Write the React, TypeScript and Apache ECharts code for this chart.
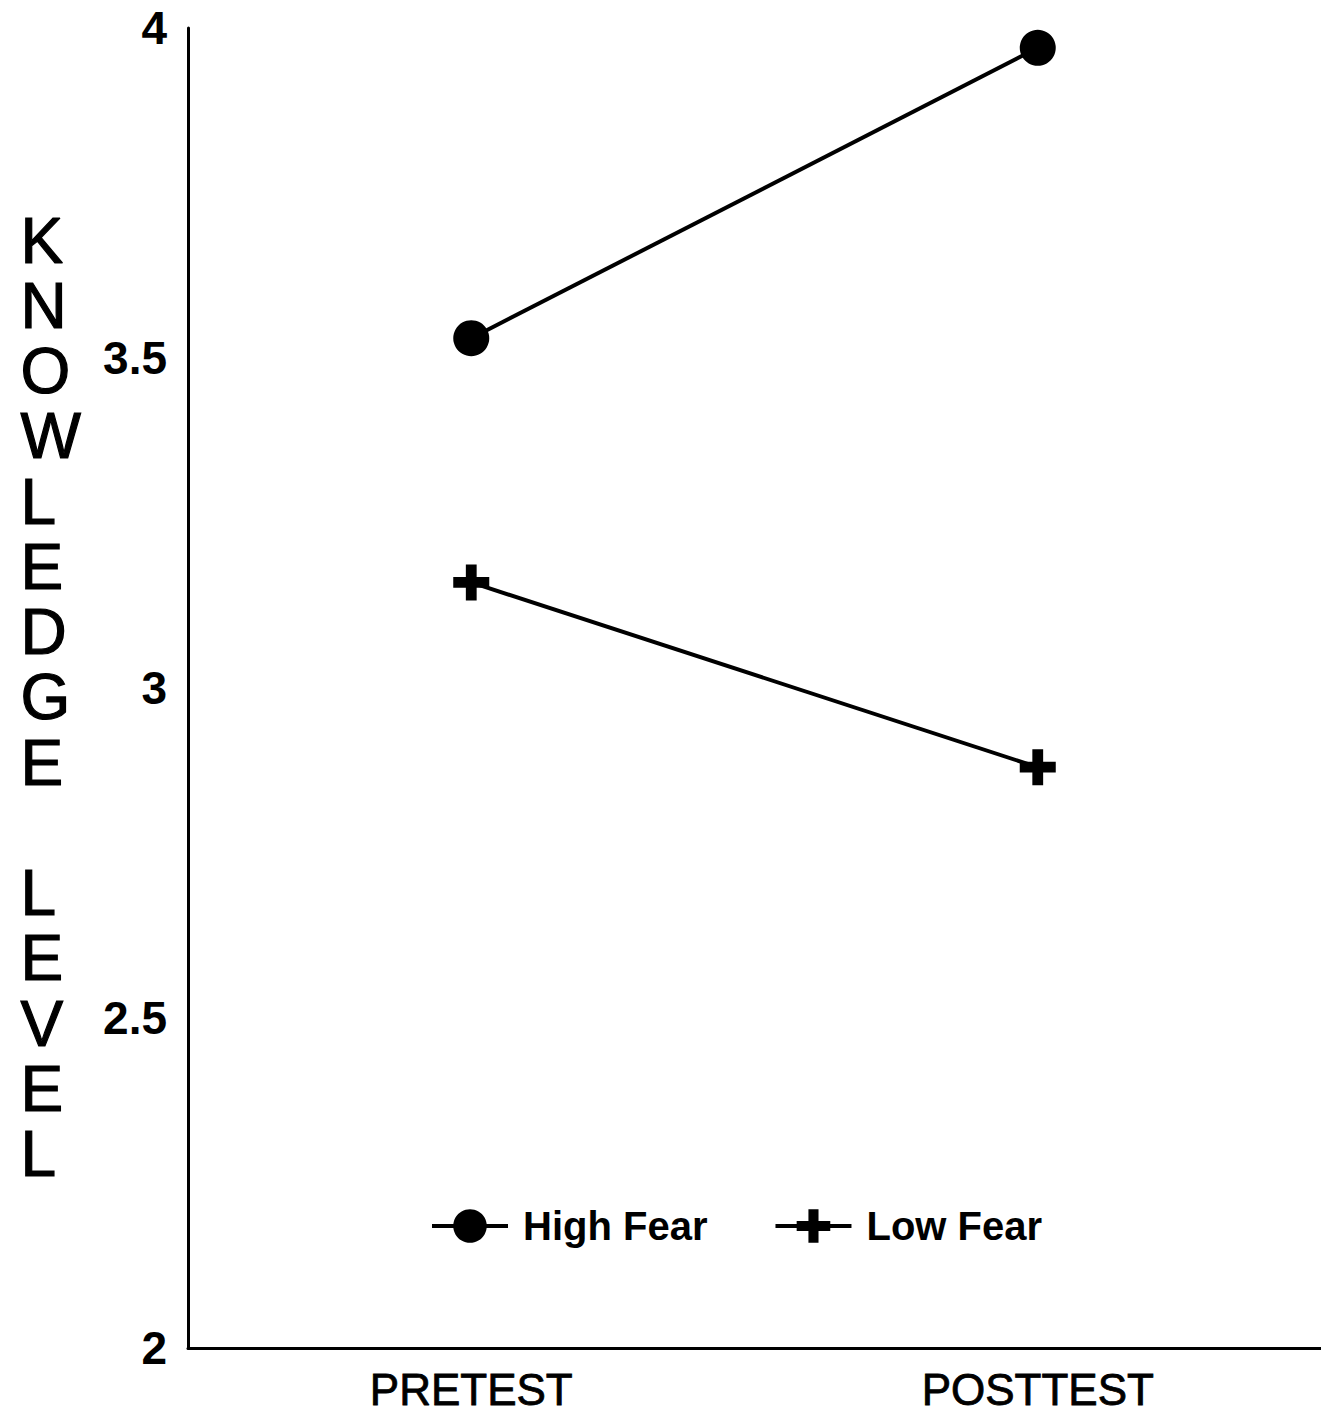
import React, { useEffect, useRef } from "react";
import * as echarts from "echarts";

const categories = ["PRETEST", "POSTTEST"];
const highFear = [3.53, 3.97];
const lowFear = [3.16, 2.88];
const yTicks = [2, 2.5, 3, 3.5, 4];
const yTitle = "KNOWLEDGE LEVEL";
const seriesNames = ["High Fear", "Low Fear"];

const plusPath = "path://M7,0 H13 V7 H20 V13 H13 V20 H7 V13 H0 V7 H7 Z";

export default function App() {
  const ref = useRef<HTMLDivElement>(null);
  useEffect(() => {
    if (!ref.current) return;
    document.body.style.margin = "0";
    const chart = echarts.init(ref.current, undefined, { renderer: "svg" });
    const letters = yTitle.split(" ").map((w) => w.split("").join("\n")).join("\n\n");
    chart.setOption({
      animation: false,
      backgroundColor: "#ffffff",
      grid: { left: 188, right: 0, top: 28, bottom: 67 },
      xAxis: {
        type: "category",
        data: categories,
        boundaryGap: true,
        axisLine: { lineStyle: { color: "#000", width: 3 } },
        axisTick: { show: false },
        axisLabel: {
          color: "#000",
          fontFamily: "Liberation Sans",
          fontSize: 44,
          margin: 19,
          textBorderColor: "#000",
          textBorderWidth: 0.8,
        },
      },
      yAxis: {
        type: "value",
        min: 2,
        max: 4,
        interval: 0.5,
        splitLine: { show: false },
        axisLine: { show: true, lineStyle: { color: "#000", width: 3 } },
        axisTick: { show: false },
        axisLabel: {
          color: "#000",
          fontFamily: "Liberation Sans",
          fontWeight: "bold",
          fontSize: 46,
          margin: 21,
          formatter: (v: number) => (yTicks.includes(v) ? String(v) : ""),
        },
      },
      legend: {
        left: 425,
        top: 1201,
        itemWidth: 76,
        itemHeight: 42,
        itemGap: 66,
        data: seriesNames,
        lineStyle: { width: 4 },
        textStyle: {
          color: "#000",
          fontFamily: "Liberation Sans",
          fontWeight: "bold",
          fontSize: 40,
          padding: [0, 0, 0, 10],
        },
      },
      graphic: [
        {
          type: "text",
          left: 20,
          top: 208,
          style: {
            text: letters,
            font: "64px 'Liberation Sans'",
            fill: "#000",
            stroke: "#000",
            lineWidth: 1.2,
            lineHeight: 65.25,
            align: "center",
          },
        },
      ],
      series: [
        {
          name: seriesNames[0],
          type: "line",
          data: highFear,
          symbol: "circle",
          symbolSize: 36,
          lineStyle: { color: "#000", width: 4 },
          itemStyle: { color: "#000" },
        },
        {
          name: seriesNames[1],
          type: "line",
          data: lowFear,
          symbol: plusPath,
          symbolSize: 36,
          lineStyle: { color: "#000", width: 4 },
          itemStyle: { color: "#000" },
        },
      ],
    });
    return () => chart.dispose();
  }, []);
  return <div ref={ref} style={{ width: 1321, height: 1415 }} />;
}
